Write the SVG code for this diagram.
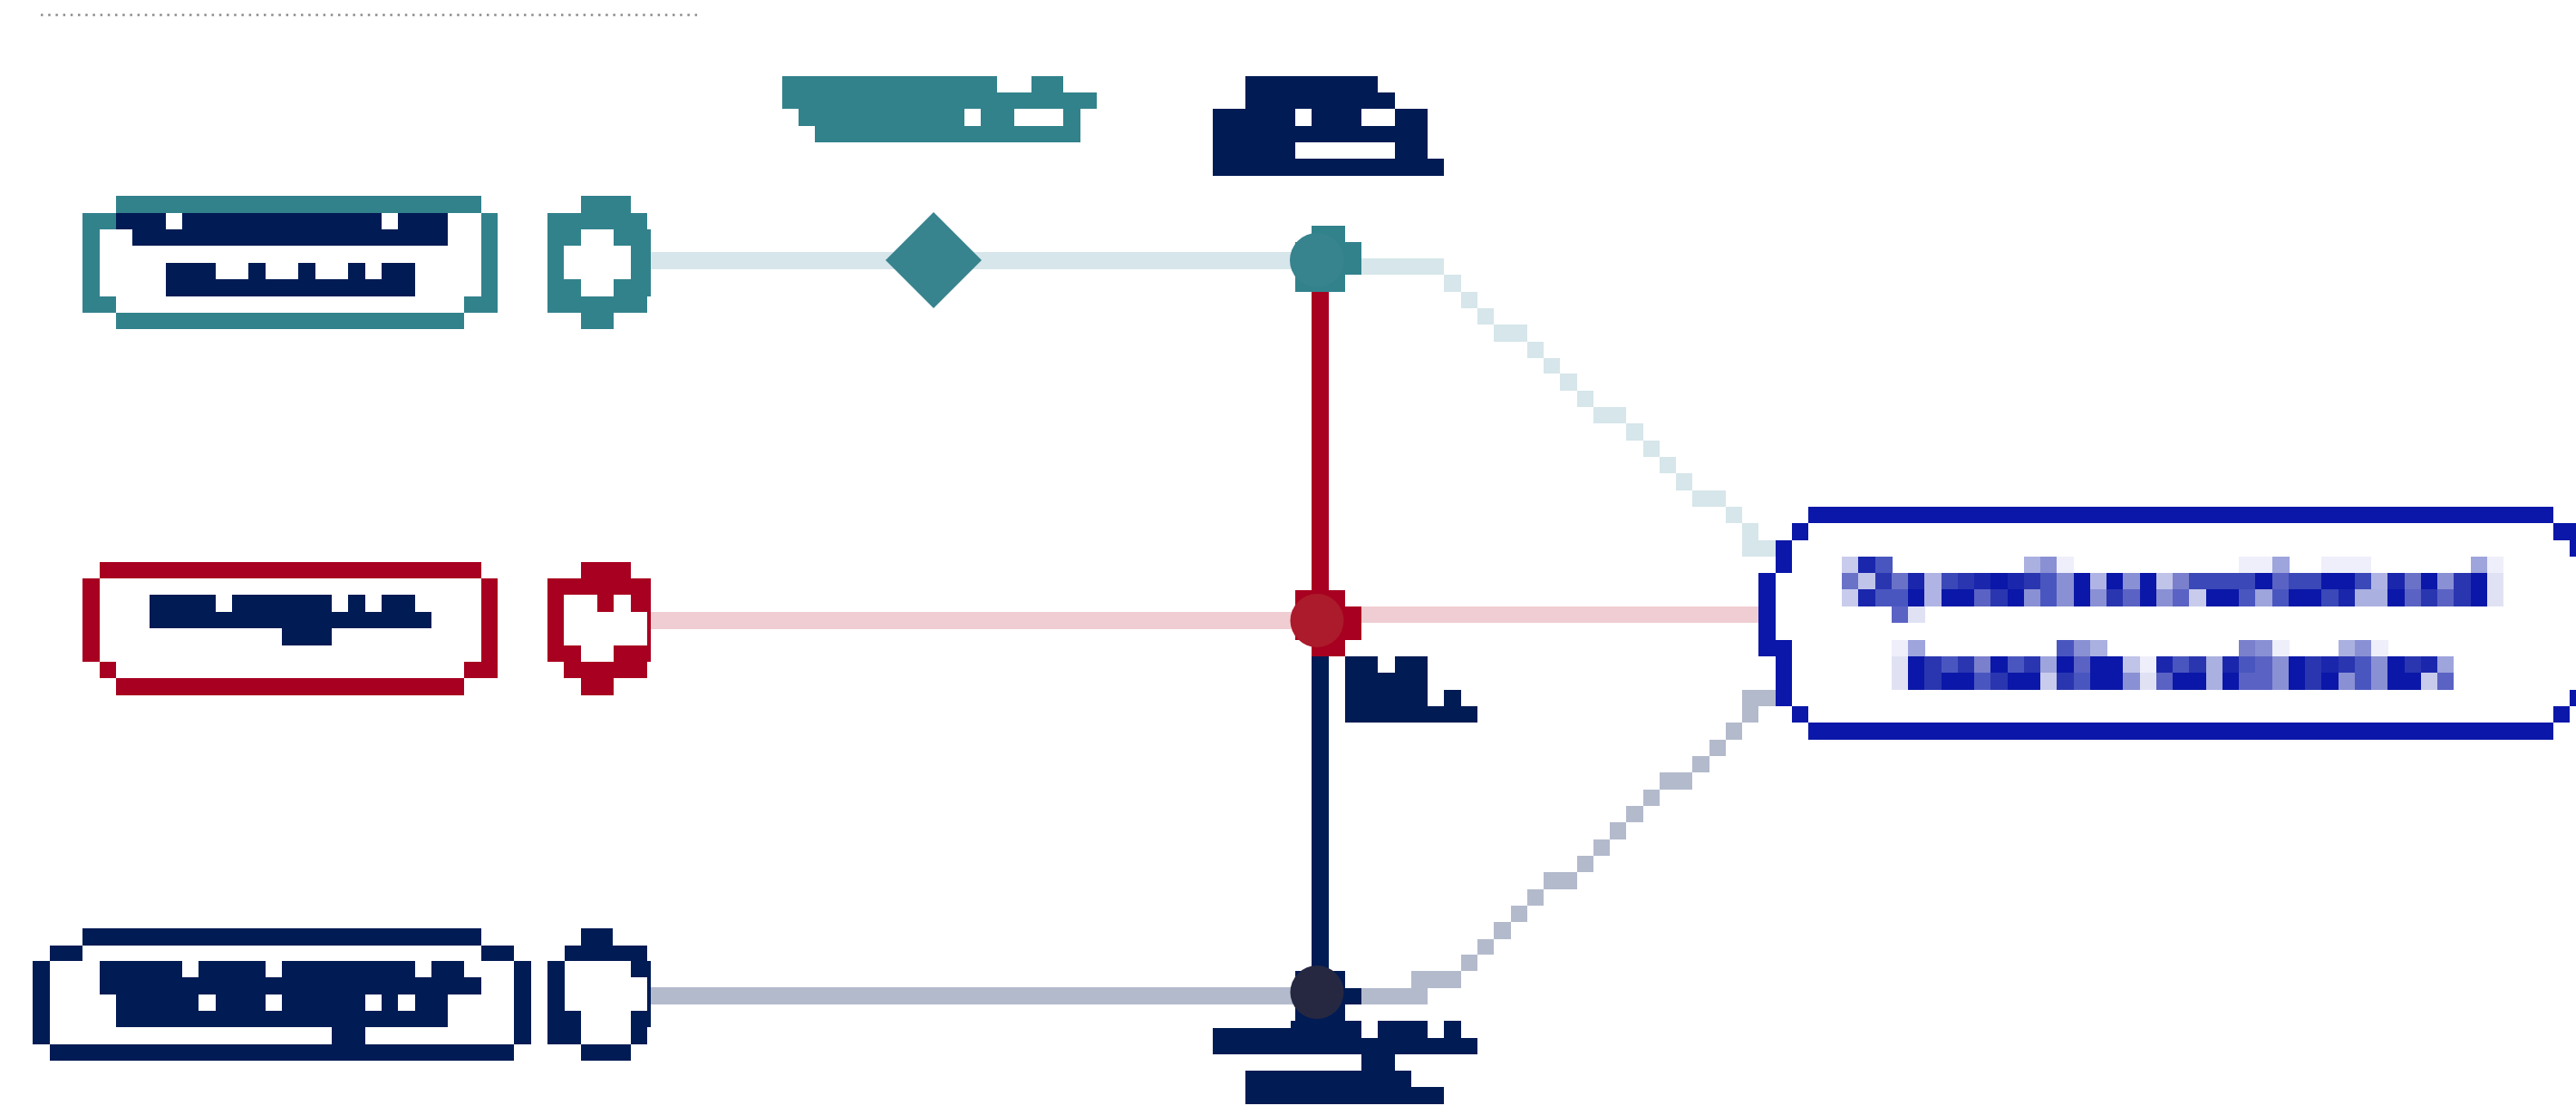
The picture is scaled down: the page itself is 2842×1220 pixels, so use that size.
<svg xmlns="http://www.w3.org/2000/svg" width="2842" height="1220" viewBox="0 0 2842 1220">
<style>
rect{shape-rendering:crispEdges}
.teal{fill:#32828C}.navy{fill:#011B54}.red{fill:#A80020}.blue{fill:#0B17A9}
.lt{fill:#D6E6EA}.pk{fill:#EFCDD2}.gb{fill:#B3BACC}
.k0{fill:#0A17A8}.k1{fill:#1A26AC}.k2{fill:#2A36B0}.k3{fill:#3A48B8}.k4{fill:#4A56C0}.k5{fill:#5A62C4}.k6{fill:#6A72C8}.k7{fill:#7A80CC}.k8{fill:#8A90D4}.k9{fill:#9EA4DC}.ka{fill:#AAB0E0}.kb{fill:#B0B4E4}.kc{fill:#C0C4E8}.kd{fill:#C8CBEB}.ke{fill:#E0E2F4}.kf{fill:#EEEFFA}
</style>
<rect x="0" y="0" width="2842" height="1220" fill="#FFFFFF"/>
<line x1="45" y1="16.5" x2="773" y2="16.5" stroke="#8A8A8A" stroke-width="2.5" stroke-dasharray="2.5 5.7"/>

<g id="connectors">
  <g class="lt">
    <rect x="718" y="278" width="722" height="19"/>
    <rect x="1502" y="285" width="91" height="18"/>
    <rect x="1593" y="303" width="19" height="19"/>
    <rect x="1612" y="322" width="18" height="18"/>
    <rect x="1630" y="340" width="18" height="18"/>
    <rect x="1648" y="358" width="37" height="19"/>
    <rect x="1685" y="377" width="18" height="18"/>
    <rect x="1703" y="395" width="18" height="17"/>
    <rect x="1721" y="412" width="19" height="19"/>
    <rect x="1740" y="431" width="18" height="18"/>
    <rect x="1758" y="449" width="36" height="18"/>
    <rect x="1794" y="467" width="19" height="19"/>
    <rect x="1813" y="486" width="18" height="18"/>
    <rect x="1831" y="504" width="18" height="18"/>
    <rect x="1849" y="522" width="18" height="19"/>
    <rect x="1867" y="541" width="37" height="18"/>
    <rect x="1904" y="559" width="18" height="18"/>
    <rect x="1922" y="577" width="18" height="37"/>
    <rect x="1940" y="596" width="19" height="18"/>
  </g>
  <g class="pk">
    <rect x="718" y="675" width="722" height="19"/>
    <rect x="1502" y="669" width="438" height="18"/>
  </g>
  <g class="gb">
    <rect x="718" y="1089" width="722" height="19"/>
    <rect x="1502" y="1090" width="73" height="18"/>
    <rect x="1557" y="1071" width="55" height="19"/>
    <rect x="1612" y="1053" width="18" height="18"/>
    <rect x="1630" y="1036" width="18" height="17"/>
    <rect x="1648" y="1017" width="19" height="19"/>
    <rect x="1667" y="999" width="18" height="18"/>
    <rect x="1685" y="981" width="18" height="18"/>
    <rect x="1703" y="962" width="37" height="19"/>
    <rect x="1740" y="944" width="18" height="18"/>
    <rect x="1758" y="926" width="18" height="18"/>
    <rect x="1776" y="907" width="18" height="19"/>
    <rect x="1794" y="889" width="19" height="18"/>
    <rect x="1813" y="871" width="18" height="18"/>
    <rect x="1831" y="852" width="36" height="19"/>
    <rect x="1867" y="834" width="19" height="18"/>
    <rect x="1886" y="816" width="18" height="18"/>
    <rect x="1904" y="797" width="18" height="19"/>
    <rect x="1922" y="779" width="18" height="18"/>
    <rect x="1922" y="761" width="37" height="18"/>
  </g>
  <rect class="red" x="1447" y="300" width="19" height="360"/>
  <rect class="navy" x="1447" y="715" width="19" height="365"/>
  <polygon points="1030,234 1083,287 1030,340 977,287" fill="#37838E"/>
</g>

<g id="junction-top">
  <g class="teal">
    <rect x="1447" y="249" width="37" height="18"/>
    <rect x="1429" y="267" width="73" height="36"/>
    <rect x="1429" y="303" width="55" height="19"/>
  </g>
  <circle cx="1453" cy="287" r="30" fill="#37838E"/>
</g>
<g id="junction-mid">
  <g class="red">
    <rect x="1429" y="651" width="55" height="18"/>
    <rect x="1429" y="669" width="73" height="37"/>
    <rect x="1447" y="706" width="37" height="18"/>
  </g>
  <circle cx="1453" cy="684.5" r="29.5" fill="#AB1B2B"/>
</g>
<g id="junction-bottom">
  <g class="navy">
    <rect x="1429" y="1071" width="55" height="19"/>
    <rect x="1429" y="1090" width="73" height="18"/>
    <rect x="1429" y="1108" width="55" height="18"/>
    <rect x="1424" y="1126" width="78" height="19"/>
  </g>
  <circle cx="1453" cy="1094.5" r="29.5" fill="#262842"/>
</g>

<g id="node-teal-box">
  <g class="teal">
    <rect x="128" y="216" width="403" height="19"/>
    <rect x="91" y="235" width="37" height="18"/>
    <rect x="91" y="253" width="19" height="74"/>
    <rect x="91" y="327" width="37" height="18"/>
    <rect x="128" y="345" width="384" height="18"/>
    <rect x="512" y="327" width="37" height="18"/>
    <rect x="531" y="235" width="18" height="92"/>
  </g>
  <g class="navy">
    <rect x="128" y="235" width="55" height="18"/>
    <rect x="201" y="235" width="220" height="18"/>
    <rect x="439" y="235" width="55" height="18"/>
    <rect x="146" y="253" width="348" height="18"/>
    <rect x="183" y="290" width="55" height="18"/>
    <rect x="274" y="290" width="19" height="18"/>
    <rect x="329" y="290" width="19" height="18"/>
    <rect x="384" y="290" width="19" height="18"/>
    <rect x="421" y="290" width="37" height="18"/>
    <rect x="183" y="308" width="275" height="19"/>
  </g>
</g>
<g id="node-teal-dot" class="teal">
  <rect x="641" y="216" width="55" height="19"/>
  <rect x="604" y="235" width="110" height="18"/>
  <rect x="604" y="253" width="37" height="18"/>
  <rect x="677" y="253" width="41" height="18"/>
  <rect x="604" y="271" width="18" height="37"/>
  <rect x="696" y="271" width="22" height="37"/>
  <rect x="604" y="308" width="37" height="19"/>
  <rect x="677" y="308" width="41" height="19"/>
  <rect x="604" y="327" width="110" height="18"/>
  <rect x="641" y="345" width="36" height="18"/>
</g>

<g id="node-red-box">
  <g class="red">
    <rect x="110" y="620" width="421" height="18"/>
    <rect x="91" y="638" width="19" height="92"/>
    <rect x="110" y="730" width="18" height="18"/>
    <rect x="128" y="748" width="384" height="19"/>
    <rect x="512" y="730" width="37" height="18"/>
    <rect x="531" y="638" width="18" height="92"/>
  </g>
  <g class="navy">
    <rect x="165" y="656" width="73" height="19"/>
    <rect x="256" y="656" width="110" height="19"/>
    <rect x="384" y="656" width="19" height="19"/>
    <rect x="421" y="656" width="37" height="19"/>
    <rect x="165" y="675" width="311" height="18"/>
    <rect x="311" y="693" width="55" height="19"/>
  </g>
</g>
<g id="node-red-dot" class="red">
  <rect x="641" y="620" width="55" height="18"/>
  <rect x="604" y="638" width="114" height="18"/>
  <rect x="604" y="656" width="18" height="19"/>
  <rect x="659" y="656" width="18" height="19"/>
  <rect x="696" y="656" width="22" height="19"/>
  <rect x="604" y="675" width="18" height="37"/>
  <rect x="714" y="675" width="4" height="37"/>
  <rect x="604" y="712" width="37" height="18"/>
  <rect x="677" y="712" width="41" height="18"/>
  <rect x="622" y="730" width="92" height="18"/>
  <rect x="641" y="748" width="36" height="19"/>
</g>

<g id="node-navy-box">
  <g class="navy">
    <rect x="91" y="1024" width="440" height="19"/>
    <rect x="55" y="1043" width="36" height="17"/>
    <rect x="531" y="1043" width="36" height="17"/>
    <rect x="36" y="1060" width="19" height="92"/>
    <rect x="567" y="1060" width="19" height="92"/>
    <rect x="55" y="1152" width="512" height="18"/>
    <rect x="110" y="1060" width="91" height="18"/>
    <rect x="219" y="1060" width="74" height="18"/>
    <rect x="311" y="1060" width="147" height="18"/>
    <rect x="476" y="1060" width="36" height="18"/>
    <rect x="110" y="1078" width="421" height="19"/>
    <rect x="128" y="1097" width="91" height="18"/>
    <rect x="238" y="1097" width="55" height="18"/>
    <rect x="311" y="1097" width="92" height="18"/>
    <rect x="421" y="1097" width="18" height="18"/>
    <rect x="458" y="1097" width="36" height="18"/>
    <rect x="128" y="1115" width="366" height="18"/>
    <rect x="366" y="1133" width="37" height="19"/>
  </g>
</g>
<g id="node-navy-dot" class="navy">
  <rect x="641" y="1024" width="35" height="19"/>
  <rect x="623" y="1043" width="91" height="17"/>
  <rect x="604" y="1060" width="19" height="18"/>
  <rect x="696" y="1060" width="22" height="18"/>
  <rect x="604" y="1078" width="19" height="37"/>
  <rect x="714" y="1078" width="4" height="37"/>
  <rect x="604" y="1115" width="37" height="18"/>
  <rect x="696" y="1115" width="22" height="18"/>
  <rect x="604" y="1133" width="37" height="19"/>
  <rect x="696" y="1133" width="18" height="19"/>
  <rect x="641" y="1152" width="55" height="18"/>
</g>

<g id="label-top-teal" class="teal">
  <rect x="863" y="84" width="237" height="18"/>
  <rect x="1138" y="84" width="35" height="18"/>
  <rect x="863" y="102" width="347" height="18"/>
  <rect x="881" y="120" width="183" height="19"/>
  <rect x="1082" y="120" width="37" height="19"/>
  <rect x="1173" y="120" width="19" height="19"/>
  <rect x="899" y="139" width="293" height="18"/>
</g>
<g id="label-top-navy" class="navy">
  <rect x="1374" y="84" width="146" height="18"/>
  <rect x="1374" y="102" width="165" height="18"/>
  <rect x="1338" y="120" width="91" height="19"/>
  <rect x="1447" y="120" width="55" height="19"/>
  <rect x="1539" y="120" width="36" height="19"/>
  <rect x="1338" y="139" width="237" height="18"/>
  <rect x="1338" y="157" width="91" height="18"/>
  <rect x="1539" y="157" width="36" height="18"/>
  <rect x="1338" y="175" width="255" height="19"/>
</g>
<g id="label-mid-navy" class="navy">
  <rect x="1484" y="724" width="36" height="18"/>
  <rect x="1539" y="724" width="36" height="18"/>
  <rect x="1484" y="742" width="91" height="19"/>
  <rect x="1484" y="761" width="91" height="18"/>
  <rect x="1593" y="761" width="19" height="18"/>
  <rect x="1484" y="779" width="146" height="18"/>
</g>
<g id="label-bottom-navy" class="navy">
  <rect x="1520" y="1126" width="55" height="19"/>
  <rect x="1593" y="1126" width="19" height="19"/>
  <rect x="1338" y="1134" width="86" height="11"/>
  <rect x="1338" y="1145" width="292" height="18"/>
  <rect x="1502" y="1163" width="37" height="18"/>
  <rect x="1374" y="1181" width="183" height="18"/>
  <rect x="1374" y="1199" width="219" height="19"/>
</g>

<g id="node-right-box">
  <g class="blue">
    <rect x="1995" y="559" width="822" height="18"/>
    <rect x="1977" y="577" width="18" height="19"/>
    <rect x="2817" y="577" width="25" height="19"/>
    <rect x="1959" y="596" width="18" height="36"/>
    <rect x="2835" y="596" width="7" height="18"/>
    <rect x="1940" y="632" width="19" height="92"/>
    <rect x="1959" y="706" width="18" height="73"/>
    <rect x="2835" y="761" width="7" height="18"/>
    <rect x="1977" y="779" width="18" height="18"/>
    <rect x="2817" y="779" width="18" height="18"/>
    <rect x="1995" y="797" width="822" height="19"/>
  </g>
  <g id="right-line-1">
    <rect class="kd" x="2032" y="614" width="19" height="18"/>
    <rect class="k1" x="2050" y="614" width="19" height="18"/>
    <rect class="k4" x="2069" y="614" width="19" height="18"/>
    <rect class="ka" x="2233" y="614" width="19" height="18"/>
    <rect class="k8" x="2251" y="614" width="19" height="18"/>
    <rect class="kf" x="2269" y="614" width="19" height="18"/>
    <rect class="kf" x="2470" y="614" width="37" height="18"/>
    <rect class="k9" x="2507" y="614" width="19" height="18"/>
    <rect class="kf" x="2561" y="614" width="55" height="18"/>
    <rect class="k9" x="2726" y="614" width="19" height="18"/>
    <rect class="kf" x="2744" y="614" width="18" height="18"/>

    <rect class="k6" x="2032" y="632" width="19" height="18"/>
    <rect class="kc" x="2050" y="632" width="19" height="18"/>
    <rect class="k2" x="2069" y="632" width="19" height="18"/>
    <rect class="k6" x="2087" y="632" width="19" height="18"/>
    <rect class="k1" x="2105" y="632" width="19" height="18"/>
    <rect class="kb" x="2123" y="632" width="19" height="18"/>
    <rect class="k3" x="2142" y="632" width="19" height="18"/>
    <rect class="k2" x="2160" y="632" width="19" height="18"/>
    <rect class="k1" x="2178" y="632" width="19" height="18"/>
    <rect class="k0" x="2196" y="632" width="19" height="18"/>
    <rect class="k1" x="2215" y="632" width="19" height="18"/>
    <rect class="k2" x="2233" y="632" width="19" height="18"/>
    <rect class="k4" x="2251" y="632" width="19" height="18"/>
    <rect class="k8" x="2269" y="632" width="19" height="18"/>
    <rect class="k0" x="2288" y="632" width="19" height="18"/>
    <rect class="kb" x="2306" y="632" width="19" height="18"/>
    <rect class="k0" x="2324" y="632" width="19" height="18"/>
    <rect class="k8" x="2342" y="632" width="19" height="18"/>
    <rect class="k0" x="2361" y="632" width="19" height="18"/>
    <rect class="kc" x="2379" y="632" width="19" height="18"/>
    <rect class="k7" x="2397" y="632" width="19" height="18"/>
    <rect class="k3" x="2415" y="632" width="74" height="18"/>
    <rect class="k0" x="2488" y="632" width="19" height="18"/>
    <rect class="k5" x="2507" y="632" width="19" height="18"/>
    <rect class="k3" x="2525" y="632" width="37" height="18"/>
    <rect class="k0" x="2561" y="632" width="37" height="18"/>
    <rect class="k3" x="2598" y="632" width="19" height="18"/>
    <rect class="kb" x="2616" y="632" width="19" height="18"/>
    <rect class="k1" x="2634" y="632" width="19" height="18"/>
    <rect class="k6" x="2653" y="632" width="19" height="18"/>
    <rect class="k0" x="2671" y="632" width="19" height="18"/>
    <rect class="k8" x="2689" y="632" width="19" height="18"/>
    <rect class="k2" x="2707" y="632" width="19" height="18"/>
    <rect class="k0" x="2726" y="632" width="19" height="18"/>
    <rect class="ke" x="2744" y="632" width="18" height="18"/>

    <rect class="kd" x="2032" y="650" width="19" height="19"/>
    <rect class="k1" x="2050" y="650" width="19" height="19"/>
    <rect class="k4" x="2069" y="650" width="37" height="19"/>
    <rect class="k0" x="2105" y="650" width="19" height="19"/>
    <rect class="kb" x="2123" y="650" width="19" height="19"/>
    <rect class="k0" x="2142" y="650" width="37" height="19"/>
    <rect class="k5" x="2178" y="650" width="19" height="19"/>
    <rect class="k2" x="2196" y="650" width="19" height="19"/>
    <rect class="k0" x="2215" y="650" width="19" height="19"/>
    <rect class="k8" x="2233" y="650" width="19" height="19"/>
    <rect class="k4" x="2251" y="650" width="19" height="19"/>
    <rect class="k8" x="2269" y="650" width="19" height="19"/>
    <rect class="k0" x="2288" y="650" width="19" height="19"/>
    <rect class="k8" x="2306" y="650" width="19" height="19"/>
    <rect class="k2" x="2324" y="650" width="19" height="19"/>
    <rect class="k5" x="2342" y="650" width="19" height="19"/>
    <rect class="k0" x="2361" y="650" width="19" height="19"/>
    <rect class="k8" x="2379" y="650" width="19" height="19"/>
    <rect class="k5" x="2397" y="650" width="19" height="19"/>
    <rect class="kd" x="2415" y="650" width="19" height="19"/>
    <rect class="k0" x="2434" y="650" width="37" height="19"/>
    <rect class="k4" x="2470" y="650" width="19" height="19"/>
    <rect class="k9" x="2488" y="650" width="19" height="19"/>
    <rect class="k4" x="2507" y="650" width="19" height="19"/>
    <rect class="k0" x="2525" y="650" width="37" height="19"/>
    <rect class="k3" x="2561" y="650" width="19" height="19"/>
    <rect class="k1" x="2580" y="650" width="19" height="19"/>
    <rect class="ka" x="2598" y="650" width="37" height="19"/>
    <rect class="k0" x="2634" y="650" width="19" height="19"/>
    <rect class="k5" x="2653" y="650" width="19" height="19"/>
    <rect class="k2" x="2671" y="650" width="19" height="19"/>
    <rect class="k5" x="2689" y="650" width="19" height="19"/>
    <rect class="k2" x="2707" y="650" width="19" height="19"/>
    <rect class="k0" x="2726" y="650" width="19" height="19"/>
    <rect class="ke" x="2744" y="650" width="18" height="19"/>

    <rect class="k5" x="2087" y="669" width="19" height="18"/>
    <rect class="ke" x="2105" y="669" width="19" height="18"/>
  </g>
  <g id="right-line-2">
    <rect class="kf" x="2087" y="706" width="19" height="18"/>
    <rect class="k9" x="2105" y="706" width="19" height="18"/>
    <rect class="k4" x="2269" y="706" width="19" height="18"/>
    <rect class="k8" x="2288" y="706" width="19" height="18"/>
    <rect class="ka" x="2306" y="706" width="19" height="18"/>
    <rect class="k7" x="2470" y="706" width="19" height="18"/>
    <rect class="k8" x="2488" y="706" width="19" height="18"/>
    <rect class="kf" x="2507" y="706" width="19" height="18"/>
    <rect class="ka" x="2580" y="706" width="19" height="18"/>
    <rect class="k8" x="2598" y="706" width="19" height="18"/>
    <rect class="kf" x="2616" y="706" width="19" height="18"/>

    <rect class="ke" x="2087" y="724" width="19" height="18"/>
    <rect class="k0" x="2105" y="724" width="19" height="18"/>
    <rect class="k2" x="2123" y="724" width="19" height="18"/>
    <rect class="k4" x="2142" y="724" width="19" height="18"/>
    <rect class="k2" x="2160" y="724" width="19" height="18"/>
    <rect class="k7" x="2178" y="724" width="19" height="18"/>
    <rect class="k0" x="2196" y="724" width="19" height="18"/>
    <rect class="k4" x="2215" y="724" width="19" height="18"/>
    <rect class="k2" x="2233" y="724" width="19" height="18"/>
    <rect class="k9" x="2251" y="724" width="19" height="18"/>
    <rect class="k0" x="2269" y="724" width="19" height="18"/>
    <rect class="k5" x="2288" y="724" width="19" height="18"/>
    <rect class="k0" x="2306" y="724" width="37" height="18"/>
    <rect class="kc" x="2342" y="724" width="19" height="18"/>
    <rect class="kf" x="2361" y="724" width="19" height="18"/>
    <rect class="k1" x="2379" y="724" width="19" height="18"/>
    <rect class="k4" x="2397" y="724" width="19" height="18"/>
    <rect class="k2" x="2415" y="724" width="19" height="18"/>
    <rect class="ka" x="2434" y="724" width="19" height="18"/>
    <rect class="k1" x="2452" y="724" width="19" height="18"/>
    <rect class="k4" x="2470" y="724" width="19" height="18"/>
    <rect class="k5" x="2488" y="724" width="19" height="18"/>
    <rect class="k8" x="2507" y="724" width="19" height="18"/>
    <rect class="k0" x="2525" y="724" width="19" height="18"/>
    <rect class="k2" x="2543" y="724" width="19" height="18"/>
    <rect class="k1" x="2561" y="724" width="19" height="18"/>
    <rect class="k2" x="2580" y="724" width="19" height="18"/>
    <rect class="k4" x="2598" y="724" width="19" height="18"/>
    <rect class="k8" x="2616" y="724" width="19" height="18"/>
    <rect class="k0" x="2634" y="724" width="19" height="18"/>
    <rect class="k2" x="2653" y="724" width="19" height="18"/>
    <rect class="k1" x="2671" y="724" width="19" height="18"/>
    <rect class="k9" x="2689" y="724" width="18" height="18"/>

    <rect class="ke" x="2087" y="742" width="19" height="19"/>
    <rect class="k0" x="2105" y="742" width="19" height="19"/>
    <rect class="k2" x="2123" y="742" width="19" height="19"/>
    <rect class="k0" x="2142" y="742" width="37" height="19"/>
    <rect class="k4" x="2178" y="742" width="19" height="19"/>
    <rect class="k2" x="2196" y="742" width="19" height="19"/>
    <rect class="k0" x="2215" y="742" width="37" height="19"/>
    <rect class="kd" x="2251" y="742" width="19" height="19"/>
    <rect class="k2" x="2269" y="742" width="19" height="19"/>
    <rect class="k4" x="2288" y="742" width="19" height="19"/>
    <rect class="k0" x="2306" y="742" width="37" height="19"/>
    <rect class="k8" x="2342" y="742" width="19" height="19"/>
    <rect class="ke" x="2361" y="742" width="19" height="19"/>
    <rect class="k5" x="2379" y="742" width="19" height="19"/>
    <rect class="k0" x="2397" y="742" width="37" height="19"/>
    <rect class="ka" x="2434" y="742" width="19" height="19"/>
    <rect class="k0" x="2452" y="742" width="19" height="19"/>
    <rect class="k5" x="2470" y="742" width="37" height="19"/>
    <rect class="k8" x="2507" y="742" width="19" height="19"/>
    <rect class="k0" x="2525" y="742" width="19" height="19"/>
    <rect class="k2" x="2543" y="742" width="19" height="19"/>
    <rect class="k0" x="2561" y="742" width="19" height="19"/>
    <rect class="k8" x="2580" y="742" width="19" height="19"/>
    <rect class="k4" x="2598" y="742" width="19" height="19"/>
    <rect class="k8" x="2616" y="742" width="19" height="19"/>
    <rect class="k0" x="2634" y="742" width="37" height="19"/>
    <rect class="kd" x="2671" y="742" width="19" height="19"/>
    <rect class="k5" x="2689" y="742" width="18" height="19"/>
  </g>
</g>
</svg>
